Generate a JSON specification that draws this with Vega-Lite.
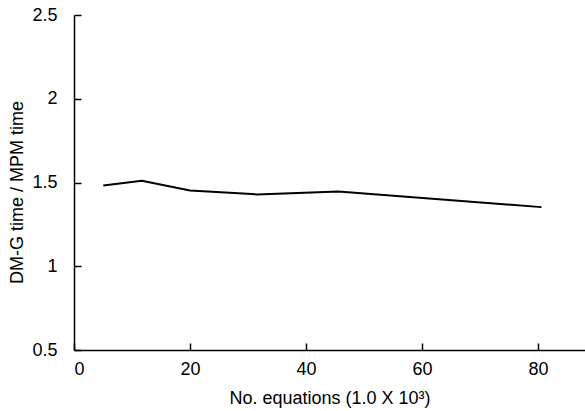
{
  "$schema": "https://vega.github.io/schema/vega-lite/v6.json",
  "width": 511,
  "height": 335,
  "autosize": "none",
  "padding": {"left": 74, "top": 15, "right": 0, "bottom": 61},
  "background": "white",
  "config": {
    "view": {"stroke": null},
    "font": "Liberation Sans",
    "axis": {
      "domainColor": "black",
      "domainWidth": 1.5,
      "tickColor": "black",
      "tickWidth": 1.5,
      "tickSize": -7,
      "grid": false,
      "labelFont": "Liberation Sans",
      "labelFontSize": 18,
      "labelColor": "black",
      "titleFont": "Liberation Sans",
      "titleFontSize": 18,
      "titleFontWeight": "normal",
      "titleColor": "black"
    }
  },
  "data": {
    "values": [
      {"x": 5.05, "y": 1.482},
      {"x": 11.7, "y": 1.51},
      {"x": 20.0, "y": 1.452},
      {"x": 31.5, "y": 1.429},
      {"x": 45.6, "y": 1.446},
      {"x": 80.6, "y": 1.353}
    ]
  },
  "mark": {"type": "line", "color": "black", "strokeWidth": 2},
  "encoding": {
    "x": {
      "field": "x",
      "type": "quantitative",
      "scale": {"domain": [0, 88.1], "nice": false, "zero": false},
      "axis": {"values": [0, 20, 40, 60, 80], "title": "No. equations (1.0 X 10³)", "labelPadding": 17, "titlePadding": 11}
    },
    "y": {
      "field": "y",
      "type": "quantitative",
      "scale": {"domain": [0.5, 2.5], "nice": false, "zero": false},
      "axis": {"values": [0.5, 1, 1.5, 2, 2.5], "format": "~g", "title": "DM-G time / MPM time", "labelPadding": 24, "titlePadding": 5, "titleY": 177}
    }
  }
}
